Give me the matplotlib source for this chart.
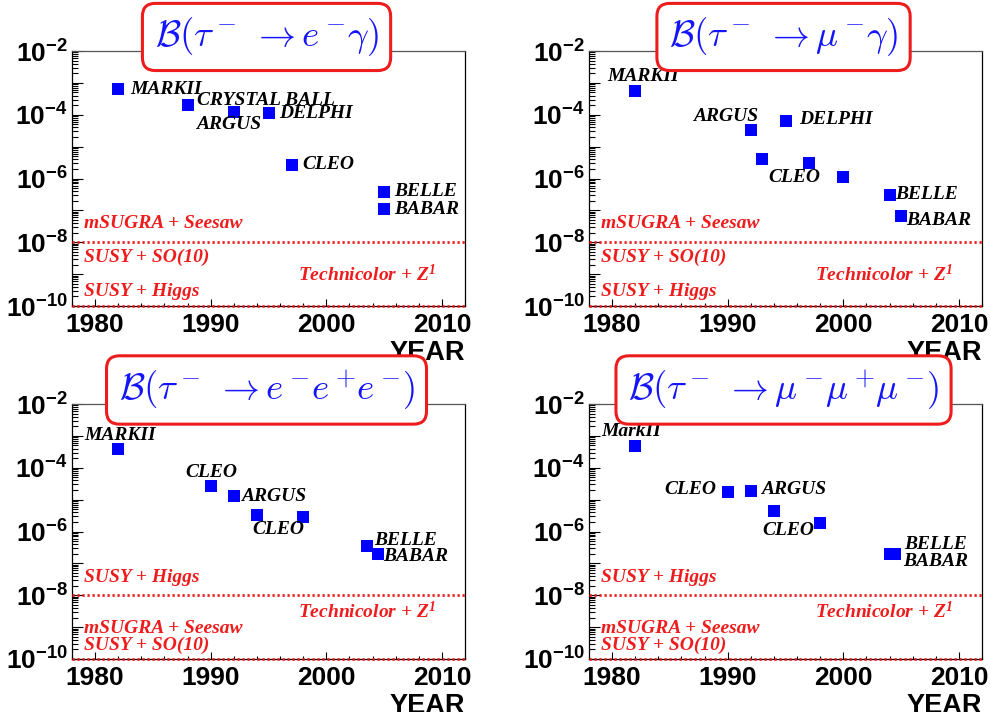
import numpy as np
import matplotlib
matplotlib.use("Agg")
import matplotlib.pyplot as plt
from matplotlib.ticker import LogLocator, MultipleLocator, FuncFormatter, NullFormatter

plt.rcParams['font.family'] = 'Liberation Sans'
plt.rcParams['font.weight'] = 'bold'
plt.rcParams['mathtext.fontset'] = 'custom'
plt.rcParams['mathtext.bf'] = 'Liberation Sans:bold'
plt.rcParams['mathtext.rm'] = 'Liberation Serif:bold:italic'
plt.rcParams['mathtext.it'] = 'Liberation Serif:bold:italic'

# tau -> e gamma
eg_years = [1982, 1988, 1992, 1995, 1997, 2005, 2005]
eg_limits = [6.4e-4, 2.0e-4, 1.2e-4, 1.1e-4, 2.7e-6, 3.9e-7, 1.1e-7]
eg_names = ['MARKII', 'CRYSTAL BALL', 'ARGUS', 'DELPHI', 'CLEO', 'BELLE', 'BABAR']

# tau -> mu gamma
mg_years = [1982, 1992, 1993, 1995, 1997, 2000, 2004, 2005]
mg_limits = [5.5e-4, 3.4e-5, 4.2e-6, 6.2e-5, 3.0e-6, 1.1e-6, 3.1e-7, 6.8e-8]
mg_names = ['MARKII', 'ARGUS', '', 'DELPHI', 'CLEO', '', 'BELLE', 'BABAR']

# tau -> e e e
eee_years = [1982, 1990, 1992, 1994, 1998, 2003.5, 2004.5]
eee_limits = [3.8e-4, 2.7e-5, 1.3e-5, 3.3e-6, 2.9e-6, 3.5e-7, 2.0e-7]
eee_names = ['MARKII', 'CLEO', 'ARGUS', 'CLEO', '', 'BELLE', 'BABAR']

# tau -> mu mu mu
mmm_years = [1982, 1990, 1992, 1994, 1998, 2004, 2004.5]
mmm_limits = [4.9e-4, 1.7e-5, 1.9e-5, 4.3e-6, 1.9e-6, 2.0e-7, 1.9e-7]
mmm_names = ['MarkII', 'CLEO', 'ARGUS', 'CLEO', '', 'BELLE', 'BABAR']

model_line = 1e-8

# label placement: (dx, dy, ha) in pixels from each marker
eg_offsets = [(12, 0, 'left'), (9, 5, 'left'), (-38, -12, 'left'), (11, 0, 'left'),
              (11, 0, 'left'), (10, 0, 'left'), (10, 0, 'left')]
mg_offsets = [(-28, 15, 'left'), (-58, 13, 'left'), None, (14, 2, 'left'),
              (-40, -14, 'left'), None, (6, 0, 'left'), (5, -5, 'left')]
eee_offsets = [(-34, 14, 'left'), (-25, 13, 'left'), (7, -1, 'left'), (-5, -15, 'left'),
               None, (7, 6, 'left'), (5, -3, 'left')]
mmm_offsets = [(-34, 14, 'left'), (-11, 3, 'right'), (10, 1, 'left'), (-12, -19, 'left'),
               None, (15, 9, 'left'), (8, -7, 'left')]

TECHNI = 'Technicolor + Z$^{1}$'
rad_models = [('mSUGRA + Seesaw', 0.031, 0.324), ('SUSY + SO(10)', 0.031, 0.191),
              ('SUSY + Higgs', 0.031, 0.056), (TECHNI, 0.576, 0.125)]
lll_models = [('SUSY + Higgs', 0.031, 0.321), (TECHNI, 0.576, 0.188),
              ('mSUGRA + Seesaw', 0.031, 0.12), ('SUSY + SO(10)', 0.031, 0.055)]

W, H = 991, 712
RED = '#ee1c1c'
fig = plt.figure(figsize=(W / 100, H / 100), dpi=100)


def decade_label(v, pos):
    e = int(round(np.log10(v)))
    return r'$\mathbf{10^{%d}}$' % e if e % 2 == 0 else ''


def panel(left, top, title, years, limits, names, offsets, models):
    ax = fig.add_axes([left / W, 1 - (top + 255) / H, 393 / W, 255 / H])
    ax.plot(years, limits, 's', color='#0000ff', ms=8.3, mew=0, zorder=4)
    ax.set_yscale('log')
    ax.set_xlim(1978, 2012)
    ax.set_ylim(1e-10, 1e-2)

    ax.axhline(model_line, color=RED, lw=2, ls=(0, (0.8, 1.0)), zorder=3)
    ax.axhline(1e-10, color=RED, lw=2, ls=(0, (0.8, 1.0)), zorder=3, clip_on=False)

    ax.yaxis.set_major_locator(LogLocator(base=10, numticks=20))
    ax.yaxis.set_minor_locator(LogLocator(base=10, subs=np.arange(2, 10), numticks=20))
    ax.yaxis.set_major_formatter(FuncFormatter(decade_label))
    ax.yaxis.set_minor_formatter(NullFormatter())
    ax.xaxis.set_major_locator(MultipleLocator(10))
    ax.xaxis.set_minor_locator(MultipleLocator(2))
    ax.tick_params(axis='y', which='major', direction='in', length=8, width=0.8,
                   labelsize=19, pad=3, right=False)
    ax.tick_params(axis='y', which='minor', direction='in', length=4.3, width=0.8, right=False)
    ax.tick_params(axis='x', which='major', direction='in', length=5, width=0.8,
                   labelsize=19, pad=5, top=False)
    ax.tick_params(axis='x', which='minor', direction='in', length=2.5, width=0.8, top=False)
    for s in ax.spines.values():
        s.set_linewidth(0.9)
    ax.spines['top'].set_color('#555555')

    for yr, val, name, off in zip(years, limits, names, offsets):
        if off is None:
            continue
        dx, dy, ha = off
        ax.annotate(name, xy=(yr, val), xytext=(dx, dy), textcoords='offset pixels',
                    ha=ha, va='center', fontsize=14, family='Liberation Serif',
                    style='italic', weight='bold', color='black', zorder=5)

    for text, x, y in models:
        ax.text(x, y, text, transform=ax.transAxes, ha='left', va='center',
                fontsize=14, family='Liberation Serif', style='italic',
                weight='bold', color=RED, zorder=5)

    ax.text(1.0, -0.135, 'YEAR', transform=ax.transAxes, ha='right', va='top',
            fontsize=19.5, weight='bold')

    ax.text(0.495, 1.055, title, transform=ax.transAxes, ha='center', va='center',
            fontsize=26.5, color='#1414ff', math_fontfamily='cm', clip_on=False, zorder=6,
            bbox=dict(boxstyle='round,pad=0.33,rounding_size=0.35', fc='white',
                      ec=RED, lw=2.2))
    return ax


panel(72, 51, r'$\mathcal{B}(\tau^-\; \rightarrow e^-\!\gamma)$',
      eg_years, eg_limits, eg_names, eg_offsets, rad_models)
panel(589, 51, r'$\mathcal{B}(\tau^-\; \rightarrow \mu^-\!\gamma)$',
      mg_years, mg_limits, mg_names, mg_offsets, rad_models)
panel(72, 404, r'$\mathcal{B}(\tau^-\; \rightarrow e^-\!e^+\!e^-\!)$',
      eee_years, eee_limits, eee_names, eee_offsets, lll_models)
panel(589, 404, r'$\mathcal{B}(\tau^-\; \rightarrow \mu^-\!\mu^+\!\mu^-\!)$',
      mmm_years, mmm_limits, mmm_names, mmm_offsets, lll_models)

fig.savefig('out.png', dpi=100)
